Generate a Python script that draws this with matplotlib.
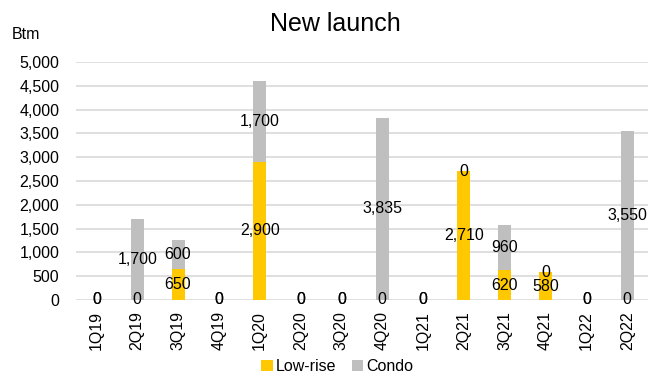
import matplotlib
matplotlib.use("Agg")
import matplotlib.pyplot as plt
import numpy as np

plt.rcParams['font.family'] = ['Liberation Sans', 'DejaVu Sans']

quarters = ["1Q19", "2Q19", "3Q19", "4Q19", "1Q20", "2Q20", "3Q20", "4Q20",
            "1Q21", "2Q21", "3Q21", "4Q21", "1Q22", "2Q22"]
low_rise = [0, 0, 650, 0, 2900, 0, 0, 0, 0, 2710, 620, 580, 0, 0]
condo = [0, 1700, 600, 0, 1700, 0, 0, 3835, 0, 0, 960, 0, 0, 3550]

yellow = "#FFC800"
grey = "#BFBFBF"

fig = plt.figure(figsize=(6.49, 3.74), dpi=100)
ax = fig.add_axes([0.117, 0.198, 0.881, 0.636])

x = np.arange(len(quarters))
w = 0.32
b1 = ax.bar(x, low_rise, w, color=yellow, label="Low-rise", zorder=3)
b2 = ax.bar(x, condo, w, bottom=low_rise, color=grey, label="Condo", zorder=3)

# value labels sit in the middle of each stacked segment
ax.bar_label(b1, labels=["{:,}".format(v) for v in low_rise],
             label_type="center", fontsize=11.5, zorder=4)
ax.bar_label(b2, labels=["{:,}".format(v) for v in condo],
             label_type="center", fontsize=11.5, zorder=4)

ax.set_xlim(-0.5, len(quarters) - 0.5)
ax.set_ylim(0, 5000)
ax.set_yticks(np.arange(0, 5001, 500))
ax.set_yticklabels(["{:,}".format(v) for v in range(0, 5001, 500)], fontsize=11.5)
ax.set_xticks(x)
ax.set_xticklabels(quarters, rotation=90, fontsize=11.5)
ax.tick_params(length=0, pad=8)
ax.tick_params(axis="y", pad=12)

ax.grid(axis="y", color="#D9D9D9", linewidth=1.2, zorder=0)
for s in ax.spines.values():
    s.set_visible(False)

fig.text(0.516, 0.935, "New launch", ha="center", va="center", fontsize=18)
fig.text(0.018, 0.908, "Btm", ha="left", va="center", fontsize=11.5)

fig.legend(loc="center", bbox_to_anchor=(0.52, 0.02), ncol=2, frameon=False,
           fontsize=11.5, handlelength=0.7, handleheight=0.7,
           handletextpad=0.2, columnspacing=1.0, borderpad=0)

fig.savefig("out.png", dpi=100)
